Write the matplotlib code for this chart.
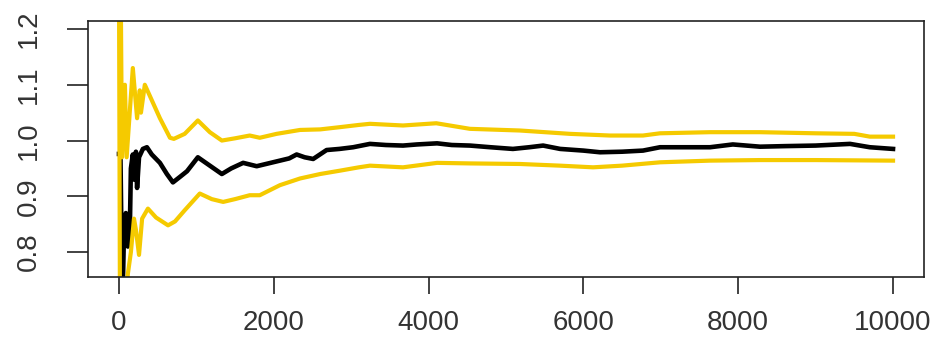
import matplotlib
matplotlib.use("Agg")
import matplotlib.pyplot as plt

# Running mean (black) and band (gold)
mean_x = [1, 20, 45, 65, 90, 115, 140, 155, 180, 195, 220, 235, 260, 310, 362, 425,
          530, 620, 698, 790, 880, 1020, 1175, 1330, 1450, 1605, 1780, 1900, 2080,
          2200, 2296, 2400, 2510, 2683, 2850, 3026, 3243, 3450, 3670, 3850, 4110,
          4300, 4535, 4800, 5090, 5300, 5480, 5700, 6000, 6215, 6500, 6770, 6990,
          7300, 7636, 7930, 8282, 8600, 9000, 9445, 9700, 10000]
mean_y = [0.976, 0.976, 0.70, 0.83, 0.87, 0.81, 0.83, 0.95, 0.975, 0.93, 0.98, 0.915,
          0.97, 0.985, 0.988, 0.975, 0.96, 0.94, 0.925, 0.935, 0.945, 0.97, 0.955,
          0.94, 0.95, 0.96, 0.954, 0.958, 0.964, 0.968, 0.975, 0.97, 0.967, 0.983,
          0.985, 0.988, 0.994, 0.992, 0.991, 0.993, 0.995, 0.992, 0.991, 0.988,
          0.985, 0.988, 0.991, 0.985, 0.982, 0.979, 0.980, 0.982, 0.988, 0.988,
          0.988, 0.993, 0.989, 0.990, 0.991, 0.994, 0.988, 0.985]

upper_x = [1, 25, 40, 78, 100, 180, 235, 270, 285, 335, 400, 530, 660, 710, 850,
           1020, 1175, 1330, 1500, 1690, 1820, 2037, 2340, 2600, 2855, 3100, 3243,
           3670, 4100, 4535, 5180, 5827, 6344, 6770, 6990, 7636, 8282, 9000, 9500,
           9700, 10000]
upper_y = [1.60, 1.25, 0.97, 1.10, 0.97, 1.13, 1.04, 1.09, 1.05, 1.10, 1.08, 1.04,
           1.005, 1.003, 1.012, 1.036, 1.015, 1.0, 1.004, 1.009, 1.005, 1.012, 1.019,
           1.02, 1.024, 1.028, 1.030, 1.027, 1.031, 1.021, 1.018, 1.012, 1.009,
           1.009, 1.013, 1.015, 1.015, 1.013, 1.012, 1.007, 1.007]

lower_x = [1, 20, 90, 115, 155, 195, 220, 260, 300, 375, 480, 635, 725, 850, 1045,
           1200, 1347, 1500, 1690, 1820, 2080, 2340, 2600, 2855, 3100, 3243, 3670,
           4110, 4535, 5180, 5698, 6125, 6500, 6990, 7636, 8282, 9000, 10000]
lower_y = [1.30, 0.40, 0.70, 0.76, 0.80, 0.86, 0.84, 0.795, 0.86, 0.878, 0.862,
           0.848, 0.855, 0.875, 0.905, 0.895, 0.890, 0.895, 0.902, 0.902, 0.92,
           0.932, 0.94, 0.946, 0.952, 0.955, 0.952, 0.96, 0.959, 0.958, 0.955,
           0.952, 0.955, 0.961, 0.964, 0.965, 0.965, 0.964]

x_ticks = [0, 2000, 4000, 6000, 8000, 10000]
y_ticks = [0.8, 0.9, 1.0, 1.1, 1.2]

plt.rcParams['font.family'] = ['Liberation Sans', 'DejaVu Sans']

fig = plt.figure(figsize=(9.42, 3.44), dpi=100)
ax = fig.add_axes([88 / 942, 1 - 277 / 344, (924 - 88) / 942, (277 - 21) / 344])

gold = '#F5CA00'
ax.plot(mean_x, mean_y, color='black', lw=3.3)
ax.plot(upper_x, upper_y, color=gold, lw=3.0)
ax.plot(lower_x, lower_y, color=gold, lw=3.0)

ax.set_xlim(-399, 10400)
ax.set_ylim(0.7554, 1.2143)
ax.set_xticks(x_ticks)
ax.set_xticklabels([str(v) for v in x_ticks])
ax.set_yticks(y_ticks)
ax.set_yticklabels([f"{v:.1f}" for v in y_ticks], rotation=90, va='center')

for s in ax.spines.values():
    s.set_linewidth(1.2)
    s.set_color('#222222')

ax.tick_params(axis='x', direction='out', length=12, width=1.2, pad=12,
               labelsize=20, colors='#222222', labelcolor='#333333')
ax.tick_params(axis='y', direction='out', length=15, width=1.2, pad=18,
               labelsize=20, colors='#222222', labelcolor='#333333')

fig.savefig('out.png', dpi=100)
